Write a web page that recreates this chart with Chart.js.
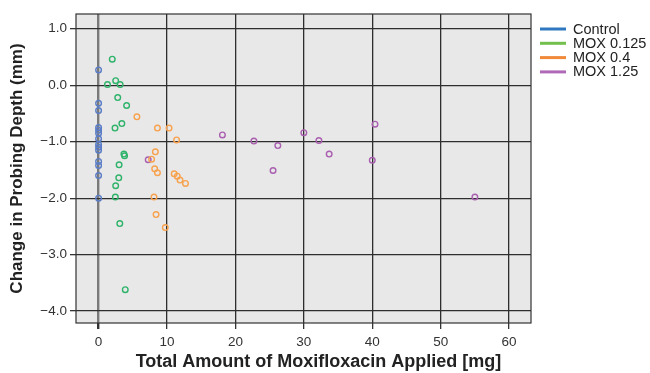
<!DOCTYPE html>
<html>
<head>
<meta charset="utf-8">
<script src="https://cdn.jsdelivr.net/npm/chart.js@4"></script>
<style>
  body { margin: 0; background: #fff; }
  #wrap { width: 650px; height: 373px; }
</style>
</head>
<body>
<div id="wrap"><canvas id="myChart" width="650" height="373"></canvas></div>
<script>
// data
let groupNames = ['Control', 'MOX 0.125', 'MOX 0.4', 'MOX 1.25'];

let controlX = [0, 0, 0, 0, 0, 0, 0, 0, 0, 0, 0, 0, 0, 0];
let controlY = [0.27, -0.32, -0.45, -0.75, -0.8, -0.85, -0.95, -1.05, -1.1, -1.15, -1.35, -1.42, -1.6, -2.0];

let mox0125X = [2.0, 1.3, 2.5, 3.15, 2.8, 4.1, 3.4, 2.4, 3.7, 3.8, 3.0, 2.95, 2.5, 2.45, 3.1, 3.9];
let mox0125Y = [0.46, 0.01, 0.08, 0.01, -0.22, -0.36, -0.68, -0.76, -1.22, -1.25, -1.41, -1.64, -1.78, -1.98, -2.45, -3.62];

let mox04X = [5.6, 8.6, 10.3, 11.4, 8.3, 7.75, 8.2, 8.6, 11.05, 11.5, 11.9, 12.7, 8.1, 8.4, 9.75];
let mox04Y = [-0.56, -0.76, -0.76, -0.97, -1.18, -1.31, -1.48, -1.55, -1.57, -1.61, -1.68, -1.74, -1.98, -2.29, -2.52];

let mox125X = [7.25, 18.1, 22.7, 26.2, 25.5, 30.0, 32.2, 33.7, 40.4, 40.0, 55.0];
let mox125Y = [-1.32, -0.88, -0.99, -1.07, -1.51, -0.84, -0.98, -1.22, -0.69, -1.33, -1.98];

let xTicks = [0, 10, 20, 30, 40, 50, 60];
let yTicks = [-4, -3, -2, -1, 0, 1];

let pointColors = ['#5a7dc6', '#2fb36a', '#f7a24e', '#a95fb0'];
let legendColors = ['#2f78bf', '#72bf4e', '#f08a3a', '#b069b6'];

// FUNCTIONS
function toPoints(xs, ys) {
  let pts = [];
  for (let i = 0; i < xs.length; i++) {
    pts.push({ x: xs[i], y: ys[i] });
  }
  return pts;
}

function makeDataset(i, xs, ys) {
  return {
    label: groupNames[i],
    data: toPoints(xs, ys),
    borderColor: pointColors[i],
    backgroundColor: 'rgba(0,0,0,0)',
    borderWidth: 1.4,
    pointRadius: 2.8,
    pointHoverRadius: 2.8
  };
}

// plot background + frame + legend
const framePlugin = {
  id: 'framePlugin',
  beforeDraw(chart) {
    const { ctx, chartArea: a } = chart;
    ctx.save();
    ctx.fillStyle = '#e9e8e8';
    ctx.fillRect(a.left, a.top, a.right - a.left, a.bottom - a.top);
    ctx.restore();
  },
  afterDatasetsDraw(chart) {
    const { ctx, chartArea: a } = chart;
    ctx.save();
    ctx.strokeStyle = '#333';
    ctx.lineWidth = 1.2;
    ctx.strokeRect(a.left, a.top, a.right - a.left, a.bottom - a.top);
    ctx.restore();
  },
  afterDraw(chart) {
    const { ctx, chartArea: a } = chart;
    ctx.save();
    ctx.font = '14.5px "Liberation Sans", Arial, sans-serif';
    ctx.textBaseline = 'middle';
    ctx.fillStyle = '#222';
    for (let i = 0; i < groupNames.length; i++) {
      let y = a.top + 15 + i * 14.3;
      ctx.strokeStyle = legendColors[i];
      ctx.lineWidth = 3;
      ctx.beginPath();
      ctx.moveTo(a.right + 9, y);
      ctx.lineTo(a.right + 35, y);
      ctx.stroke();
      ctx.fillText(groupNames[i], a.right + 42, y + 0.5);
    }
    ctx.restore();
  }
};

const data = {
  datasets: [
    makeDataset(0, controlX, controlY),
    makeDataset(1, mox0125X, mox0125Y),
    makeDataset(2, mox04X, mox04Y),
    makeDataset(3, mox125X, mox125Y)
  ]
};

const config = {
  type: 'scatter',
  data: data,
  options: {
    responsive: false,
    animation: false,
    layout: { padding: { top: 14, right: 119, left: 0, bottom: 0 } },
    plugins: {
      legend: { display: false },
      tooltip: { enabled: false }
    },
    scales: {
      x: {
        type: 'linear',
        min: -3.3,
        max: 63.2,
        afterBuildTicks(scale) {
          scale.ticks = xTicks.map(v => ({ value: v }));
        },
        afterFit(scale) {
          scale.height = 50;
        },
        border: { display: false },
        grid: {
          color: ctx => (ctx.tick && ctx.tick.value === 0 ? '#7a7a7a' : '#2e2e2e'),
          lineWidth: ctx => (ctx.tick && ctx.tick.value === 0 ? 2.4 : 1.3),
          tickColor: '#333',
          tickLength: 6,
          drawTicks: true
        },
        ticks: {
          color: '#333',
          padding: 5,
          maxRotation: 0,
          font: { family: '"Liberation Sans", Arial, sans-serif', size: 13.5 }
        },
        title: {
          display: true,
          // leading spaces nudge the centred title to the right, as in the original
          text: '      Total Amount of Moxifloxacin Applied [mg]',
          color: '#222',
          padding: { top: 0, bottom: 0 },
          font: { family: '"Liberation Sans", Arial, sans-serif', size: 18, weight: 'bold' }
        }
      },
      y: {
        type: 'linear',
        min: -4.21,
        max: 1.26,
        afterBuildTicks(scale) {
          scale.ticks = yTicks.map(v => ({ value: v }));
        },
        afterFit(scale) {
          scale.width = 76;
        },
        border: { display: false },
        grid: {
          color: '#2e2e2e',
          lineWidth: 1.3,
          tickColor: '#333',
          tickLength: 6,
          drawTicks: true
        },
        ticks: {
          color: '#333',
          padding: 3,
          font: { family: '"Liberation Sans", Arial, sans-serif', size: 13.5 },
          callback: v => v.toFixed(1).replace('-', '\u2212')
        },
        title: {
          display: true,
          text: 'Change in Probing Depth (mm)',
          color: '#222',
          padding: { top: 7, bottom: 0 },
          font: { family: '"Liberation Sans", Arial, sans-serif', size: 17, weight: 'bold' }
        }
      }
    }
  },
  plugins: [framePlugin]
};

const myChart = new Chart(document.getElementById('myChart'), config);
</script>
</body>
</html>
